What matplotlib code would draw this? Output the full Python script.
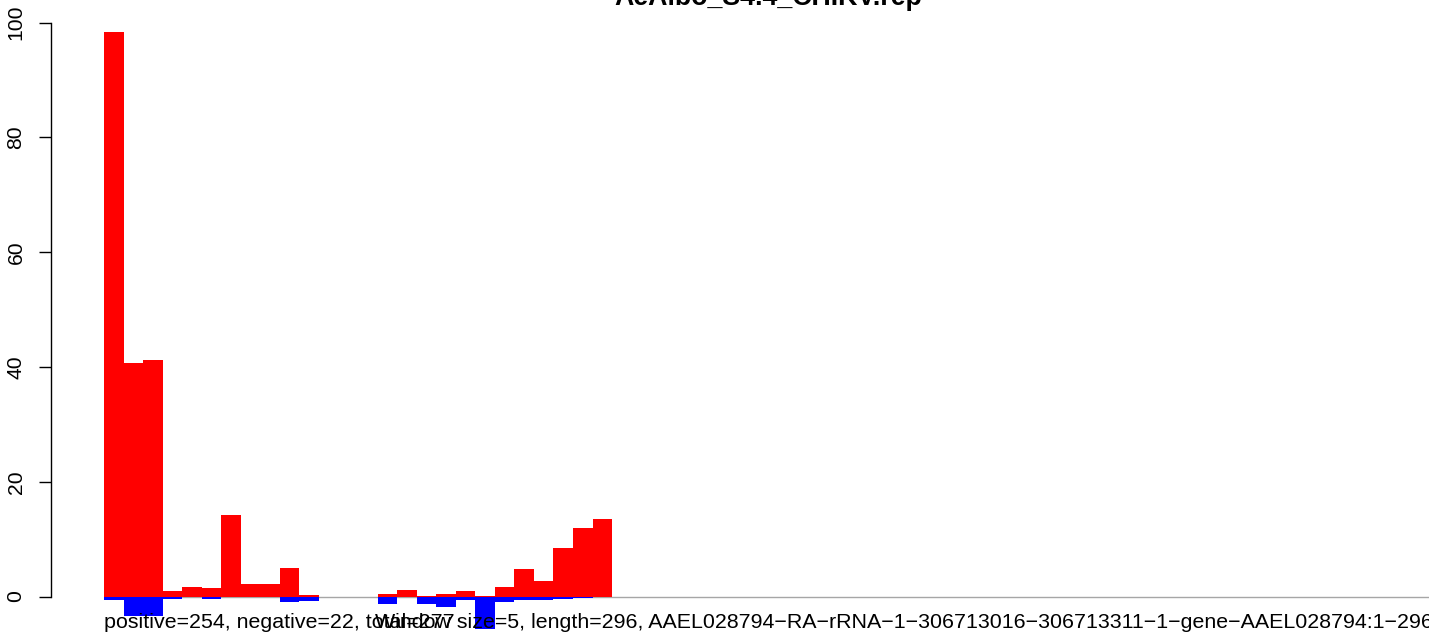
import matplotlib
matplotlib.use("Agg")
import matplotlib.pyplot as plt
import numpy as np

plt.rcParams['font.family'] = ['Liberation Sans', 'DejaVu Sans']

title = "AeAlbo_S4.4_CHIKV.rep"
positive = [98.3, 40.7, 41.2, 1.0, 1.65, 1.5, 14.2, 2.2, 2.2, 5.0, 0.2, 0, 0, 0,
            0.45, 1.15, 0.1, 0.45, 0.95, 0.1, 1.65, 4.8, 2.7, 8.45, 11.95, 13.5]
negative = [-0.6, -3.35, -3.35, -0.4, -0.1, -0.4, -0.15, 0, -0.15, -0.9, -0.7, 0, 0, 0,
            -1.25, -0.15, -1.25, -1.8, -0.55, -5.6, -0.9, -0.6, -0.65, -0.35, -0.2, 0]
yticks = [0, 20, 40, 60, 80, 100]
caption1 = "positive=254, negative=22, total=277"
caption2 = ("Window size=5, length=296, "
            "AAEL028794\u2212RA\u2212rRNA\u22121\u2212306713016\u2212306713311\u22121"
            "\u2212gene\u2212AAEL028794:1\u2212296")

W, H = 1429, 634
fig = plt.figure(figsize=(W / 100, H / 100), dpi=100)
ax = fig.add_axes([0, 0, 1, 1])

bw = 19.54          # px per bin
x0 = 104.0          # px of first bin
y0 = 596.5          # px (from top) of zero
ppu = 5.74          # px per y unit
ax.set_xlim(-x0 / bw, (W - x0) / bw)
ax.set_ylim(-(H - y0) / ppu, y0 / ppu)

x = np.arange(len(positive))
ax.hlines(0, 0, (W - x0) / bw + 1, color="#a6a6a6", lw=1.0, zorder=1)
ax.bar(x, positive, width=1.0, align="edge", color="#ff0000", linewidth=0, zorder=2)
ax.bar(x, negative, width=1.0, align="edge", color="#0000ff", linewidth=0, zorder=2)

for s in ["top", "right", "bottom"]:
    ax.spines[s].set_visible(False)
ax.spines["left"].set_position(("data", (50.5 - x0) / bw))
ax.spines["left"].set_bounds(0, 100)
ax.spines["left"].set_linewidth(1.0)
ax.set_yticks(yticks)
ax.set_yticklabels([str(t) for t in yticks], rotation=90, va="center", fontsize=15.2)
ax.tick_params(axis="y", length=9, width=1.0, pad=9, direction="out")
ax.set_xticks([])

fig.text(768.5 / W, 1 - 5 / H, title, ha="center", va="baseline",
         fontsize=19.3, fontweight="bold")
fig.text(x0 / W, 5.5 / H, caption1, ha="left", va="baseline", fontsize=15.4)
fig.text(375 / W, 5.5 / H, caption2, ha="left", va="baseline", fontsize=15.4)

fig.savefig("out.png", dpi=100)
